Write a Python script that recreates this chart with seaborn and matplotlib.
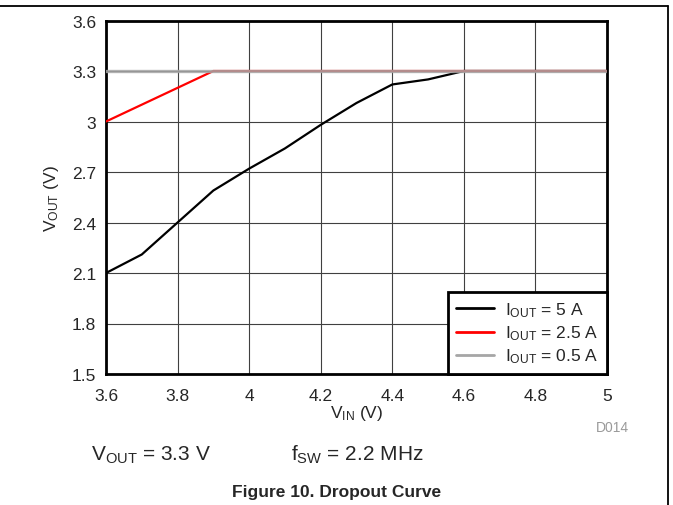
import seaborn as sns
import matplotlib.pyplot as plt
import pandas as pd

# data
vin_5a = [3.6, 3.7, 3.8, 3.9, 4.0, 4.1, 4.2, 4.3, 4.4, 4.5, 4.6, 4.8, 5.0]
vout_5a = [2.10, 2.21, 2.40, 2.59, 2.72, 2.84, 2.98, 3.11, 3.22, 3.25, 3.30, 3.30, 3.30]
vin_2a5 = [3.6, 3.7, 3.8, 3.9, 4.2, 4.6, 5.0]
vout_2a5 = [3.00, 3.10, 3.20, 3.30, 3.30, 3.30, 3.30]
vin_0a5 = [3.6, 3.9, 4.2, 4.6, 5.0]
vout_0a5 = [3.30, 3.30, 3.30, 3.30, 3.30]

labels = [r"$\mathregular{I_{OUT}}$ = 5 A",
          r"$\mathregular{I_{OUT}}$ = 2.5 A",
          r"$\mathregular{I_{OUT}}$ = 0.5 A"]
colors = ["black", "#ff0000", "#a6a6a6"]

df = pd.concat([
    pd.DataFrame({"vin": vin_5a, "vout": vout_5a, "load": labels[0]}),
    pd.DataFrame({"vin": vin_2a5, "vout": vout_2a5, "load": labels[1]}),
    pd.DataFrame({"vin": vin_0a5, "vout": vout_0a5, "load": labels[2]}),
])

sns.set_style("white")
plt.rcParams["font.family"] = ["Liberation Sans", "DejaVu Sans"]
plt.rcParams["mathtext.fontset"] = "custom"
plt.rcParams["mathtext.rm"] = "Liberation Sans"
plt.rcParams["mathtext.default"] = "regular"

fig = plt.figure(figsize=(6.73, 5.06), dpi=100)
ax = fig.add_axes([106 / 673, 1 - 375 / 506, 501 / 673, 353.5 / 506])

sns.lineplot(data=df, x="vin", y="vout", hue="load", palette=colors,
             hue_order=labels, ax=ax, estimator=None, sort=False)
widths = [1.6, 1.6, 2.4]
for line, lw, z in zip(ax.get_lines(), widths, [3, 3, 4]):
    line.set_linewidth(lw)
    line.set_zorder(z)
ax.get_lines()[2].set_alpha(0.85)

ax.set_xlim(3.6, 5.0)
ax.set_ylim(1.5, 3.6)
ax.set_xticks([3.6, 3.8, 4.0, 4.2, 4.4, 4.6, 4.8, 5.0])
ax.set_xticklabels(["3.6", "3.8", "4", "4.2", "4.4", "4.6", "4.8", "5"])
ax.set_yticks([1.5, 1.8, 2.1, 2.4, 2.7, 3.0, 3.3, 3.6])
ax.set_yticklabels(["1.5", "1.8", "2.1", "2.4", "2.7", "3", "3.3", "3.6"])
ax.tick_params(axis="x", length=0, labelsize=12.5, pad=10)
ax.tick_params(axis="y", length=0, labelsize=12.5, pad=7)
ax.grid(True, color="#404040", linewidth=0.8)
for s in ax.spines.values():
    s.set_linewidth(2)
    s.set_color("black")
    s.set_visible(True)

ax.set_xlabel(r"$\mathregular{V_{IN}}$ (V)", fontsize=12.5, labelpad=0)
ax.set_ylabel(r"$\mathregular{V_{OUT}}$ (V)", fontsize=12.5, labelpad=8)

leg = ax.legend(loc="lower right", borderaxespad=0, fontsize=12.5,
                handlelength=2.2, handletextpad=0.6, fancybox=False,
                framealpha=1, labelspacing=0.25, borderpad=0.5)
leg.get_frame().set_edgecolor("black")
leg.get_frame().set_linewidth(2)
for h in leg.get_lines():
    h.set_linewidth(2)

fig.text(612, 506 - 428, "D014", color="#9a9a9a", fontsize=10,
         ha="center", va="center", transform=None)
fig.text(91, 506 - 455, r"$\mathregular{V_{OUT}}$ = 3.3 V", fontsize=15,
         ha="left", va="center", transform=None)
fig.text(291, 506 - 455, r"$\mathregular{f_{SW}}$ = 2.2 MHz", fontsize=15,
         ha="left", va="center", transform=None)
fig.text(337, 506 - 493, "Figure 10. Dropout Curve", fontsize=12.5,
         fontweight="bold", ha="center", va="center", transform=None)

# document frame lines
fig.add_artist(plt.Line2D([0, 668 / 673], [1 - 7 / 506, 1 - 7 / 506],
                          color="black", linewidth=1.3, transform=fig.transFigure))
fig.add_artist(plt.Line2D([668 / 673, 668 / 673], [0, 1 - 7 / 506],
                          color="black", linewidth=1.3, transform=fig.transFigure))

fig.savefig("out.png", dpi=100)
